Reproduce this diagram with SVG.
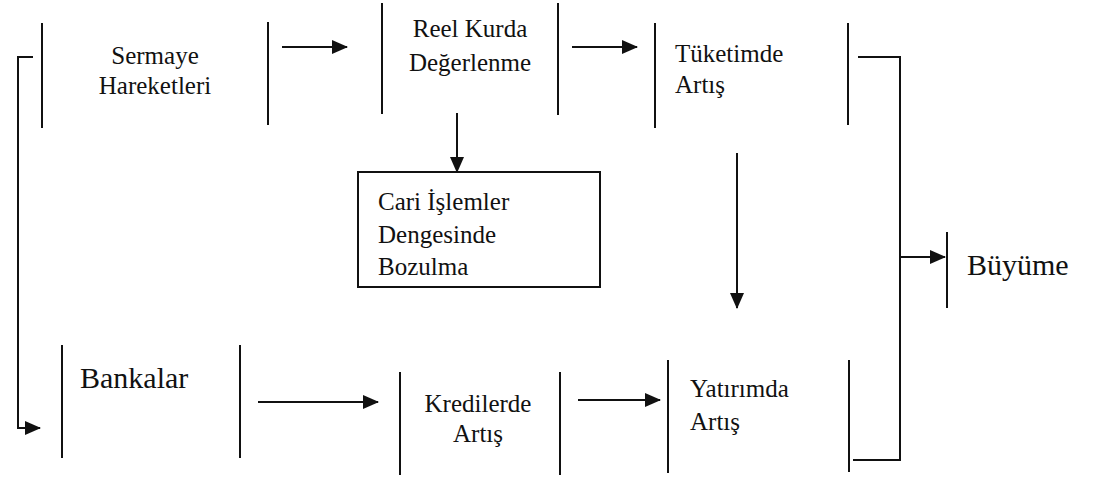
<svg xmlns="http://www.w3.org/2000/svg" width="1103" height="479" viewBox="0 0 1103 479">
<style>
.bar{stroke:#111;stroke-width:2;fill:none}
.ln{stroke:#111;stroke-width:2;fill:none}
text{font-family:'Liberation Serif','DejaVu Serif',serif;font-size:25px;fill:#111}
.big{font-size:30px}
</style>
<defs>
<marker id="ah" markerUnits="userSpaceOnUse" markerWidth="16" markerHeight="14" refX="15" refY="7" orient="auto">
<path d="M0,0 L16,7 L0,14 Z" fill="#111"/>
</marker>
</defs>
<rect width="1103" height="479" fill="#fff"/>
<g id="sermaye">
<line class="bar" x1="42" y1="23" x2="42" y2="128"/>
<line class="bar" x1="268" y1="22" x2="268" y2="125"/>
<text x="155" y="64" text-anchor="middle">Sermaye</text>
<text x="155" y="94" text-anchor="middle">Hareketleri</text>
</g>
<g id="reel">
<line class="bar" x1="382" y1="3" x2="382" y2="114"/>
<line class="bar" x1="558" y1="3" x2="558" y2="115"/>
<text x="470" y="37" text-anchor="middle">Reel Kurda</text>
<text x="470" y="71" text-anchor="middle">Değerlenme</text>
</g>
<g id="tuketim">
<line class="bar" x1="655" y1="23" x2="655" y2="128"/>
<line class="bar" x1="848" y1="23" x2="848" y2="125"/>
<text x="675" y="62">Tüketimde</text>
<text x="675" y="93">Artış</text>
</g>
<g id="cari">
<rect class="bar" x="358" y="172" width="242" height="115"/>
<text x="378" y="210">Cari İşlemler</text>
<text x="378" y="243">Dengesinde</text>
<text x="378" y="275">Bozulma</text>
</g>
<g id="bankalar">
<line class="bar" x1="62" y1="345" x2="62" y2="458"/>
<line class="bar" x1="240" y1="345" x2="240" y2="458"/>
<text class="big" x="80" y="388">Bankalar</text>
</g>
<g id="krediler">
<line class="bar" x1="400" y1="372" x2="400" y2="475"/>
<line class="bar" x1="560" y1="372" x2="560" y2="475"/>
<text x="478" y="412" text-anchor="middle">Kredilerde</text>
<text x="478" y="442" text-anchor="middle">Artış</text>
</g>
<g id="yatirim">
<line class="bar" x1="668" y1="360" x2="668" y2="473"/>
<line class="bar" x1="849" y1="360" x2="849" y2="472"/>
<text x="690" y="397">Yatırımda</text>
<text x="690" y="430">Artış</text>
</g>
<g id="buyume">
<line class="bar" x1="947" y1="232" x2="947" y2="308"/>
<text class="big" x="967" y="275">Büyüme</text>
</g>
<g id="connectors">
<line class="ln" x1="282" y1="47" x2="347" y2="47" marker-end="url(#ah)"/>
<line class="ln" x1="572" y1="47" x2="637" y2="47" marker-end="url(#ah)"/>
<line class="ln" x1="457" y1="113" x2="457" y2="172" marker-end="url(#ah)"/>
<line class="ln" x1="737" y1="153" x2="737" y2="308" marker-end="url(#ah)"/>
<line class="ln" x1="258" y1="402" x2="378" y2="402" marker-end="url(#ah)"/>
<line class="ln" x1="578" y1="400" x2="660" y2="400" marker-end="url(#ah)"/>
<polyline class="ln" points="33,57 18,57 18,428 40,428" marker-end="url(#ah)"/>
<polyline class="ln" points="858,57 900,57 900,460 853,460"/>
<line class="ln" x1="900" y1="257" x2="945" y2="257" marker-end="url(#ah)"/>
</g>
</svg>
